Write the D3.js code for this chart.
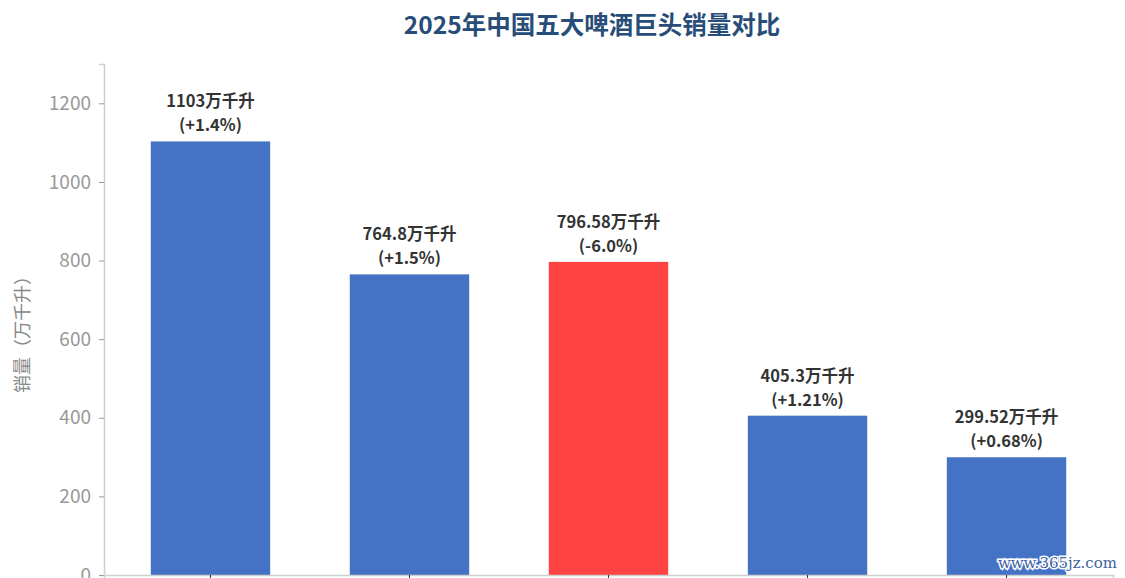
<!DOCTYPE html>
<html>
<head>
<meta charset="utf-8">
<script src="https://cdn.jsdelivr.net/npm/d3@7"></script>
<style>
  body { margin: 0; background: #fff; }
  text { font-family: "Noto Sans CJK SC", "Noto Sans", sans-serif; }
</style>
</head>
<body>
<script>
var categories = ["华润啤酒", "青岛啤酒", "百威亚太", "燕京啤酒", "重庆啤酒"];
var values = [1103, 764.8, 796.58, 405.3, 299.52];
var changes = ["+1.4%", "+1.5%", "-6.0%", "+1.21%", "+0.68%"];
var yTicks = [0, 200, 400, 600, 800, 1000, 1200];

var width = 1125, height = 578,
    margin = {left: 104, right: 12, top: 64, bottom: 3};

var svg = d3.select("body").append("svg")
  .attr("width", width)
  .attr("height", height);

var x = d3.scaleBand()
  .domain(categories)
  .range([margin.left, width - margin.right])
  .paddingInner(0.4)
  .paddingOuter(0.235);

var y = d3.scaleLinear()
  .domain([0, 1300])
  .range([height - margin.bottom, margin.top]);

// title
svg.append("text")
  .attr("x", 592).attr("y", 34)
  .attr("text-anchor", "middle")
  .style("font-size", "24.5px")
  .style("font-weight", "bold")
  .style("fill", "#274d78")
  .text("2025年中国五大啤酒巨头销量对比");

// bars
svg.selectAll("rect.bar")
  .data(values)
  .enter().append("rect")
  .attr("class", "bar")
  .attr("x", function (d, i) { return x(categories[i]); })
  .attr("width", x.bandwidth())
  .attr("y", function (d) { return y(d); })
  .attr("height", function (d) { return y(0) - y(d); })
  .style("fill", function (d, i) { return changes[i][0] == "-" ? "#ff4242" : "#4472c4"; });

// value labels
var labels = svg.selectAll("g.lbl")
  .data(values)
  .enter().append("g")
  .attr("class", "lbl")
  .attr("transform", function (d, i) {
    return "translate(" + (x(categories[i]) + x.bandwidth() / 2) + "," + y(d) + ")";
  });

labels.append("text")
  .attr("y", -34)
  .attr("text-anchor", "middle")
  .style("font-size", "16.5px")
  .style("font-weight", "bold")
  .style("fill", "#333")
  .text(function (d) { return d + "万千升"; });

labels.append("text")
  .attr("y", -10)
  .attr("text-anchor", "middle")
  .style("font-size", "16.5px")
  .style("font-weight", "bold")
  .style("fill", "#333")
  .text(function (d, i) { return "(" + changes[i] + ")"; });

// axes
var yAxis = svg.append("g")
  .attr("transform", "translate(" + margin.left + ",0)")
  .call(d3.axisLeft(y).tickValues(yTicks).tickFormat(d3.format("d")).tickSize(5).tickPadding(8));

// category names fall below the visible frame, as in the source image
var xAxis = svg.append("g")
  .attr("transform", "translate(0," + y(0) + ")")
  .call(d3.axisBottom(x).tickSize(5).tickFormat(""));

[yAxis, xAxis].forEach(function (a) {
  a.select(".domain").style("stroke", "#cfcfcf").style("stroke-width", 1.5);
  a.selectAll(".tick line").style("stroke", "#999");
  a.selectAll(".tick text")
    .style("font-size", "19px")
    .style("fill", "#999")
    .style("font-family", "'Noto Sans CJK SC', sans-serif");
});
xAxis.selectAll(".tick line").style("stroke", "#333");

// y label
svg.append("text")
  .attr("transform", "translate(29,330) rotate(-90)")
  .attr("text-anchor", "middle")
  .style("font-size", "18px")
  .style("fill", "#888")
  .text("销量（万千升）");

// watermark
svg.append("text")
  .attr("x", 1117).attr("y", 568)
  .attr("text-anchor", "end")
  .style("font-family", "'DejaVu Serif', serif")
  .style("font-size", "15px")
  .style("fill", "#3f5f9f")
  .style("stroke", "#fff")
  .style("stroke-width", 3)
  .style("paint-order", "stroke")
  .text("www.365jz.com");
</script>
</body>
</html>
